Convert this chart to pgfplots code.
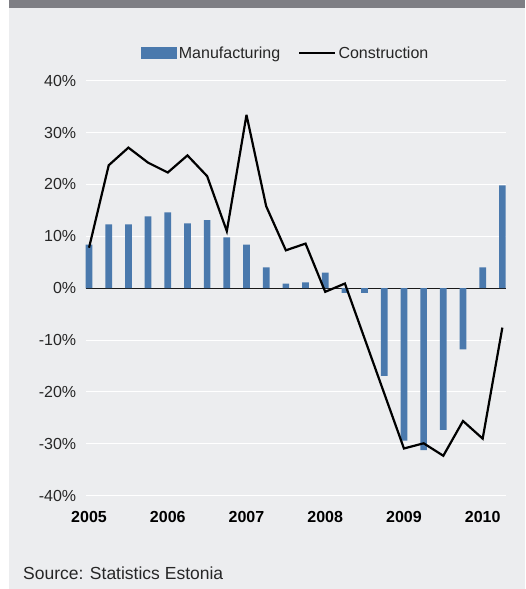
\documentclass[border=0pt]{standalone}
\usepackage{fontspec}
\setmainfont{Liberation Sans}
\usepackage{pgfplots}
\pgfplotsset{compat=1.18}
\definecolor{bgc}{HTML}{ECEDEF}
\definecolor{band}{HTML}{7E7E84}
\definecolor{barc}{HTML}{4A79AD}
\begin{document}
\begin{tikzpicture}[x=1pt,y=1pt]
\path[use as bounding box] (0,0) rectangle (525,589);
\fill[bgc] (9,0) rectangle (525,581);
\fill[band] (9,581) rectangle (525,589);
\node[anchor=base west, inner sep=0pt, font=\fontsize{17.5}{20}\selectfont, text=black!85] at (23,9) {Source: Statistics Estonia};
\begin{axis}[
  at={(85.7pt,93.3pt)}, anchor=south west,
  scale only axis, width=420pt, height=415pt,
  xmin=-0.17, xmax=21.17, ymin=-40, ymax=40,
  axis line style={draw=none}, major tick length=0pt,
  ytick={-40,-30,-20,-10,0,10,20,30,40},
  yticklabels={-40\%,-30\%,-20\%,-10\%,0\%,10\%,20\%,30\%,40\%},
  xtick={0,4,8,12,16,20},
  xticklabels={2005,2006,2007,2008,2009,2010},
  ymajorgrids, major grid style={white, line width=1pt},
  extra y ticks={0}, extra y tick labels={},
  extra y tick style={ymajorgrids, major grid style={black!90, line width=1pt}},
  /pgf/number format/assume math mode=true,
  yticklabel style={font=\fontsize{16}{18}\selectfont, text=black!85, xshift=-6pt},
  xticklabel style={font=\bfseries\fontsize{16}{18}\selectfont, text=black, yshift=-12pt},
  legend columns=2,
  legend style={at={(axis description cs:0.476,1.066)}, anchor=center, draw=none, fill=none,
    font=\fontsize{16}{18}\selectfont, text=black!85,
    /tikz/every even column/.append style={column sep=16pt},
    nodes={inner xsep=2pt, inner ysep=1pt}},
]
\addplot[ybar, bar width=6.7pt, bar shift=0pt, fill=barc, draw=none,
  legend image code/.code={\fill[barc] (0pt,-6pt) rectangle (36pt,6pt);}]
  coordinates {
  (0,8.4) (1,12.3) (2,12.3) (3,13.85) (4,14.6) (5,12.5) (6,13.1) (7,9.8)
  (8,8.4) (9,4.0) (10,0.9) (11,1.1) (12,3.0) (13,-0.9) (14,-0.9) (15,-16.9)
  (16,-29.4) (17,-31.2) (18,-27.3) (19,-11.8) (20,4.0) (21,19.8)};
\addlegendentry{Manufacturing}
\addplot[black, line width=2.2pt, line join=miter, miter limit=4, mark=none,
  legend image code/.code={\draw[black, line width=2.2pt] (0pt,0pt) -- (36pt,0pt);}]
  coordinates {
  (0,7.8) (1,23.7) (2,27.1) (3,24.2) (4,22.3) (5,25.6) (6,21.6) (7,11.0)
  (8,33.4) (9,15.8) (10,7.3) (11,8.6) (12,-0.7) (13,0.9) (14,-9.7) (15,-20.3)
  (16,-30.9) (17,-29.9) (18,-32.3) (19,-25.6) (20,-29.0) (21,-7.6)};
\addlegendentry{Construction}
\end{axis}
\end{tikzpicture}
\end{document}
